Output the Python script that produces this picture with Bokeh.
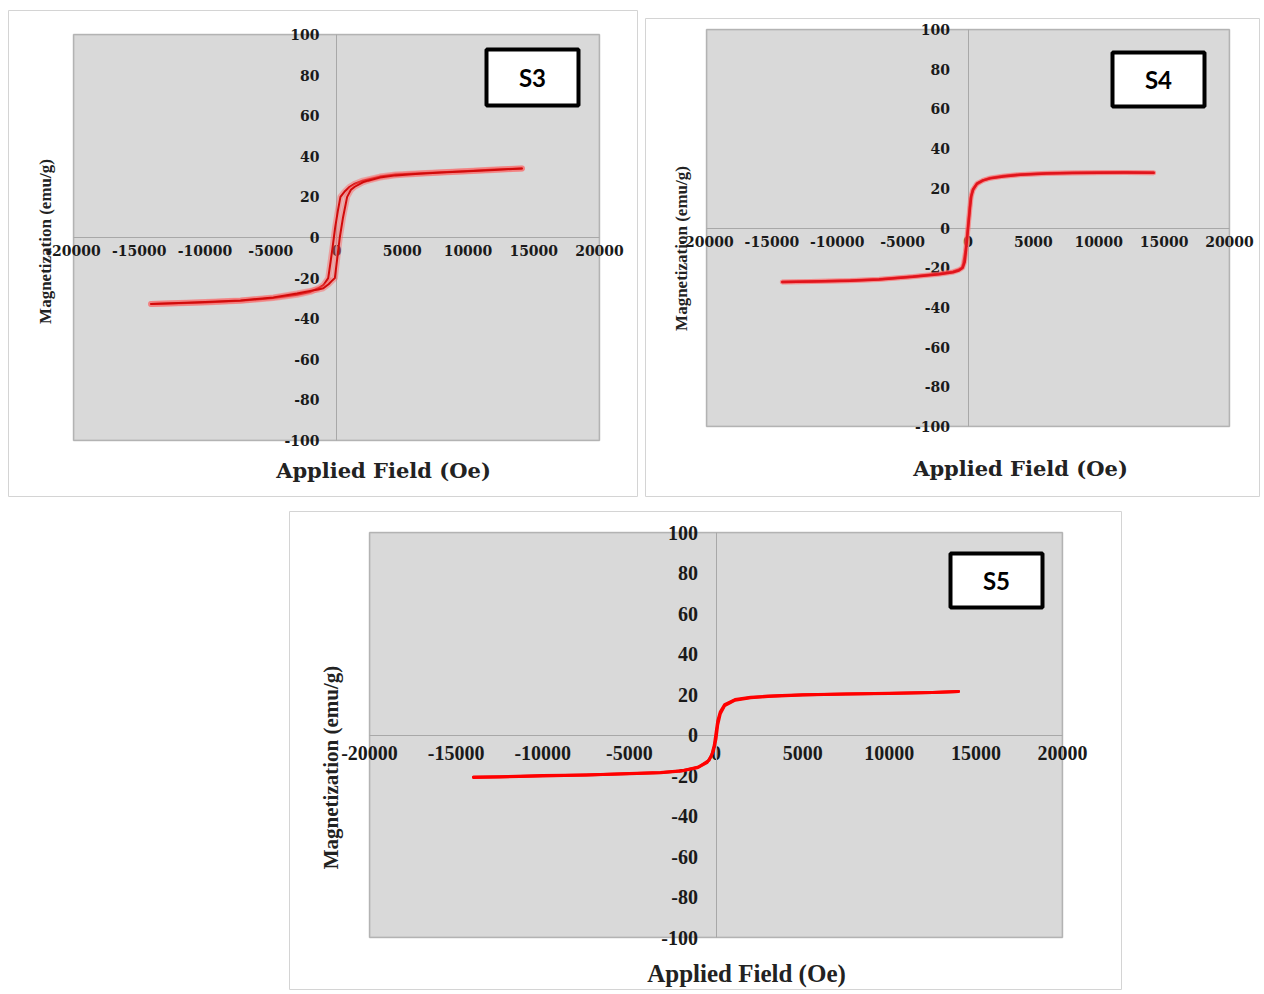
import numpy as np
from bokeh.plotting import figure
from bokeh.models import Range1d, LinearAxis, FixedTicker, Label, Spacer, BoxAnnotation
from bokeh.layouts import row, column
from bokeh.embed import file_html
from bokeh.resources import INLINE

# ---------------- data ----------------
X_TICKS = [-20000, -15000, -10000, -5000, 0, 5000, 10000, 15000, 20000]
X_TICK_LABELS = ["-20000", "-15000", "-10000", "-5000", "0", "5000", "10000", "15000", "20000"]
Y_TICKS = [-100, -80, -60, -40, -20, 0, 20, 40, 60, 80, 100]
Y_TICK_LABELS = ["-100", "-80", "-60", "-40", "-20", "0", "20", "40", "60", "80", "100"]

X_TITLE = "Applied Field (Oe)"
Y_TITLE = "Magnetization (emu/g)"
SAMPLES = ["S3", "S4", "S5"]

# S3 hysteresis loop (Oe, emu/g)
S3_DESC_H = [14100, 12000, 10000, 8000, 6000, 4500, 3300, 2000, 1400, 1000, 600, 300, 100, -100,
             -200, -300, -450, -630, -1000, -1400, -2000, -3000, -4800, -7300, -10000, -12000, -14100]
S3_DESC_M = [34.0, 33.5, 32.8, 32.2, 31.5, 31.0, 30.0, 28.0, 26.5, 25.0, 22.5, 20.0, 13.0, 5.0,
             0.0, -5.0, -12.0, -20.0, -23.5, -25.0, -26.8, -28.2, -29.8, -31.2, -32.0, -32.4, -32.7]
S3_ASC_H = [-14100, -12000, -10000, -7300, -4800, -3000, -2000, -1400, -1000, -600, -300, -125, 0,
            100, 250, 500, 810, 1100, 1390, 2000, 2400, 3300, 4500, 6000, 8000, 10000, 12000, 14100]
S3_ASC_M = [-32.7, -32.3, -31.8, -31.0, -29.5, -27.6, -26.3, -25.6, -25.0, -23.0, -21.0, -20.0, -13.3,
            -8.0, 0.0, 10.0, 20.0, 23.5, 25.0, 27.2, 28.0, 29.5, 30.6, 31.3, 32.0, 32.6, 33.3, 34.0]

# S4 hysteresis loop
S4_DESC_H = [14200, 12000, 10000, 8000, 6000, 4000, 2700, 1700, 1150, 650, 350, 200, 100, 0,
             -100, -200, -350, -450, -700, -1150, -2200, -4200, -6800, -9000, -12000, -14200]
S4_DESC_M = [27.8, 27.9, 27.9, 27.8, 27.6, 27.0, 26.2, 25.2, 24.0, 22.0, 19.0, 15.0, 8.0, 1.0,
             -6.0, -12.0, -18.0, -20.0, -21.0, -22.0, -23.0, -24.4, -25.8, -26.5, -27.0, -27.2]
S4_ASC_H = [-14200, -12000, -9000, -6800, -4200, -2200, -1150, -700, -400, -250, -150, -50, 50,
            150, 250, 400, 700, 1150, 1700, 2700, 4000, 6000, 8000, 10000, 12000, 14200]
S4_ASC_M = [-27.2, -27.0, -26.6, -26.0, -24.6, -23.3, -22.3, -21.4, -20.0, -17.0, -11.0, -4.0, 3.0,
            10.0, 16.0, 19.5, 22.5, 24.0, 25.0, 26.0, 26.8, 27.4, 27.7, 27.8, 27.9, 27.8]

# S5 hysteresis loop
S5_ASC_H = [-14000, -12500, -10000, -7500, -5000, -3200, -2000, -1000, -400, -150, 0, 100, 250,
            500, 1100, 2000, 3000, 5000, 7500, 10000, 12500, 14000]
S5_ASC_M = [-20.8, -20.6, -20.0, -19.7, -19.0, -18.5, -17.7, -15.8, -12.5, -8.0, -2.0, 5.0, 10.5,
            14.5, 17.2, 18.4, 19.0, 19.8, 20.2, 20.5, 21.0, 21.5]
S5_DESC_H = [14000, 12500, 10000, 7500, 5000, 3000, 2000, 1100, 500, 250, 100, 0, -100, -250,
             -500, -1100, -2000, -3200, -5000, -7500, -10000, -12500, -14000]
S5_DESC_M = [21.5, 21.0, 20.6, 20.3, 19.9, 19.2, 18.6, 17.5, 15.0, 11.5, 7.0, 1.0, -5.0, -10.0,
             -13.5, -16.2, -17.8, -18.6, -19.1, -19.8, -20.2, -20.7, -21.0]

XMIN, XMAX, YMIN, YMAX = -20000, 20000, -100, 100


def make_panel(cfg):
    cx, cy, cw, ch = cfg["canvas"]
    fl, fr, ft, fb = cfg["frame"]
    sx = (XMAX - XMIN) / (fr - fl)
    sy = (YMAX - YMIN) / (fb - ft)

    def px2data(px, py):
        return XMIN + (px - fl) * sx, YMAX - (py - ft) * sy

    x0, y1 = px2data(cx, cy)
    x1, y0 = px2data(cx + cw, cy + ch)

    p = figure(width=cw, height=ch,
               x_range=Range1d(x0, x1), y_range=Range1d(y0, y1),
               x_axis_location=None, y_axis_location=None,
               toolbar_location=None, output_backend="svg",
               min_border=0, min_border_left=0, min_border_right=0,
               min_border_top=0, min_border_bottom=0)
    p.title.visible = False
    p.grid.visible = False
    p.background_fill_color = "white"
    p.border_fill_color = "white"
    p.outline_line_color = "#d4d4d4"
    p.outline_line_width = 1

    # plot area
    p.add_layout(BoxAnnotation(left=XMIN, right=XMAX, bottom=YMIN, top=YMAX,
                               fill_color="#d9d9d9", fill_alpha=1.0,
                               line_color="#2e2e2e", line_width=1.5, level="image"))

    tf, tsz = cfg["tick_font"]
    common = dict(axis_line_color="#a8a8a8", axis_line_width=1,
                  major_tick_line_color=None, minor_tick_line_color=None,
                  major_tick_out=0, major_tick_in=0,
                  major_label_text_font=tf, major_label_text_font_style="bold",
                  major_label_text_font_size=tsz, major_label_text_color="#1a1a1a")
    xax = LinearAxis(fixed_location=0, ticker=FixedTicker(ticks=X_TICKS), bounds=(XMIN, XMAX),
                     major_label_overrides=dict(zip(X_TICKS, X_TICK_LABELS)),
                     major_label_standoff=cfg["xstand"], **common)
    xax.level = "underlay"
    p.add_layout(xax, "below")
    yax = LinearAxis(fixed_location=0, ticker=FixedTicker(ticks=Y_TICKS), bounds=(YMIN, YMAX),
                     major_label_overrides=dict(zip(Y_TICKS, Y_TICK_LABELS)),
                     major_label_standoff=cfg["ystand"], **common)
    yax.level = "underlay"
    p.add_layout(yax, "left")

    # curves
    for H, M in cfg["branches"]:
        if cfg["halo"]:
            p.line(H, M, line_color=cfg["halo"], line_width=cfg["halo_w"], line_alpha=0.45,
                   line_join="round", line_cap="round")
        p.line(H, M, line_color=cfg["color"], line_width=cfg["lw"],
               line_join="round", line_cap="round")

    # sample box
    bx, by, bw, bh = cfg["box"]
    dx, dy = px2data(bx, by)
    p.rect(x=[dx], y=[dy], width=[bw - 4], height=[bh - 4],
           width_units="screen", height_units="screen",
           fill_color="white", line_color="black", line_width=4)
    p.add_layout(Label(x=dx, y=dy, text=cfg["name"], text_font="Lato", text_font_style="bold",
                       text_font_size="24px", text_align="center", text_baseline="middle",
                       text_color="black"))

    # axis titles
    xf, xsz, (xtx, xty) = cfg["xtitle"]
    tx, ty = px2data(xtx, xty)
    p.add_layout(Label(x=tx, y=ty, text=X_TITLE, text_font=xf, text_font_style="bold",
                       text_font_size=xsz, text_align="center", text_baseline="middle",
                       text_color="#222222"))
    yf, ysz, (ytx, yty) = cfg["ytitle"]
    tx, ty = px2data(ytx, yty)
    p.add_layout(Label(x=tx, y=ty, text=Y_TITLE, text_font=yf, text_font_style="bold",
                       text_font_size=ysz, text_align="center", text_baseline="middle",
                       angle=np.pi / 2, text_color="#222222"))
    return p


cfg3 = dict(name=SAMPLES[0], canvas=(8, 10, 630, 487), frame=(73, 599, 34, 440),
            tick_font=("DejaVu Serif", "14px"), xstand=7, ystand=17,
            branches=[(S3_DESC_H, S3_DESC_M), (S3_ASC_H, S3_ASC_M)],
            color="#d10a0a", lw=2, halo="#ff5c5c", halo_w=6,
            box=(532, 77, 96, 60),
            xtitle=("DejaVu Serif", "21px", (383, 470)),
            ytitle=("Liberation Serif", "17px", (45, 241)))
cfg4 = dict(name=SAMPLES[1], canvas=(645, 18, 615, 479), frame=(706, 1229, 29, 426),
            tick_font=("DejaVu Serif", "14px"), xstand=8, ystand=18,
            branches=[(S4_DESC_H, S4_DESC_M), (S4_ASC_H, S4_ASC_M)],
            color="#e0141c", lw=2.5, halo="#ff6a6a", halo_w=5,
            box=(1158, 79, 96, 58),
            xtitle=("DejaVu Serif", "21px", (1020, 468)),
            ytitle=("Liberation Serif", "17px", (681, 248)))
cfg5 = dict(name=SAMPLES[2], canvas=(289, 511, 833, 479), frame=(369, 1062, 532, 937),
            tick_font=("Liberation Serif", "20px"), xstand=11, ystand=18,
            branches=[(S5_ASC_H, S5_ASC_M), (S5_DESC_H, S5_DESC_M)],
            color="#ff0000", lw=3, halo=None, halo_w=0,
            box=(996, 580, 96, 58),
            xtitle=("Liberation Serif", "25px", (746, 973)),
            ytitle=("Liberation Serif", "21px", (330, 767)))

p3 = make_panel(cfg3)
p4 = make_panel(cfg4)
p5 = make_panel(cfg5)

row1 = row(Spacer(width=8, height=1),
           column(Spacer(width=630, height=10), p3),
           Spacer(width=7, height=1),
           column(Spacer(width=615, height=18), p4))
row2 = row(Spacer(width=289, height=1),
           column(Spacer(width=833, height=14), p5))
layout = column(row1, row2)

open("out.html", "w").write(file_html(layout, INLINE))
